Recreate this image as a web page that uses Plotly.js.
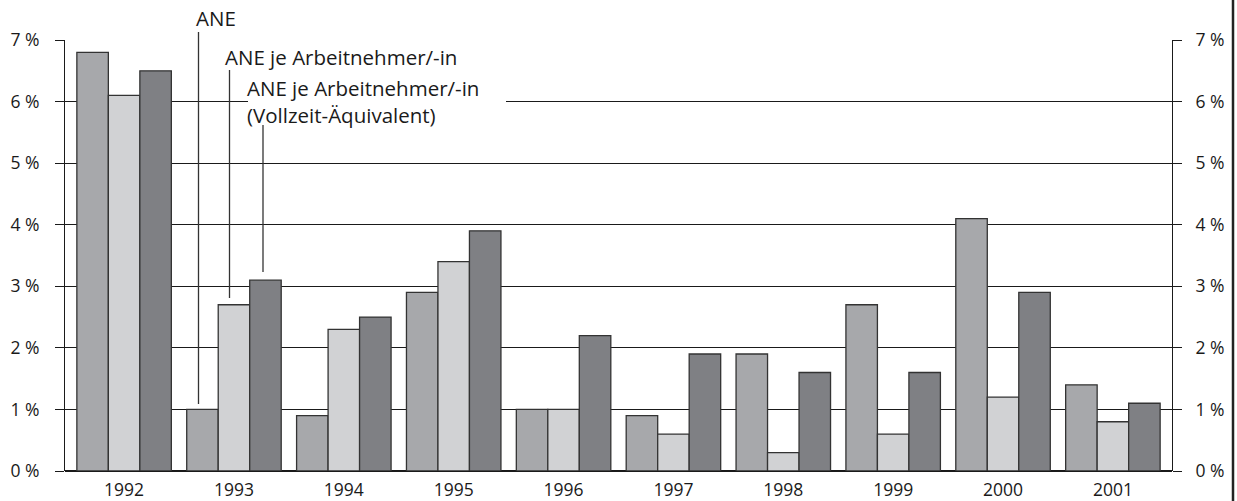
<!DOCTYPE html>
<html><head><meta charset="utf-8">
<script src="https://cdn.plot.ly/plotly-3.0.1.min.js"></script>
<style>html,body{margin:0;padding:0;background:#fff;}#chart{width:1237px;height:501px;}</style>
</head><body><div id="chart"></div>
<script>
const years = ['1992','1993','1994','1995','1996','1997','1998','1999','2000','2001'];
const seriesNames = ['ANE', 'ANE je Arbeitnehmer/-in', 'ANE je Arbeitnehmer/-in (Vollzeit-Äquivalent)'];
const ane        = [6.8, 1.0, 0.9, 2.9, 1.0, 0.9, 1.9, 2.7, 4.1, 1.4];
const aneJe      = [6.1, 2.7, 2.3, 3.4, 1.0, 0.6, 0.3, 0.6, 1.2, 0.8];
const aneVollzeit= [6.5, 3.1, 2.5, 3.9, 2.2, 1.9, 1.6, 1.6, 2.9, 1.1];
const colors = ['#a7a8ab', '#d1d2d4', '#7f8084'];
const yTicks = [0,1,2,3,4,5,6,7];
const yTickText = ['0 %','1 %','2 %','3 %','4 %','5 %','6 %','7 %'];

const FAM = 'Open Sans, Noto Sans, sans-serif';
const font = {family: FAM, size: 17.5, color: '#1a1a1a'};
const afont = {family: FAM, size: 20.5, color: '#1a1a1a'};
const values = [ane, aneJe, aneVollzeit];
const traces = values.map((v, i) => ({
  type: 'bar', x: years, y: v, name: seriesNames[i],
  marker: {color: colors[i], line: {color: '#333', width: 1.3}},
  hoverinfo: 'skip'
}));
traces.push({type: 'scatter', x: years, y: years.map(() => null), yaxis: 'y2', mode: 'markers', showlegend: false, hoverinfo: 'skip'});

const H = 431; // plot height in px
const py = p => (471 - p) / H; // pixel -> paper
const px = p => (p - 65) / 1107;
const layout = {
  width: 1237, height: 501,
  margin: {l: 65, r: 65, t: 40, b: 30},
  paper_bgcolor: '#fff', plot_bgcolor: '#fff',
  showlegend: false,
  barmode: 'group', bargap: 0.14, bargroupgap: 0,
  font: font,
  xaxis: {type: 'category', showgrid: false, ticks: '', tickfont: font, showline: false, zeroline: false, ticklabelstandoff: 6, fixedrange: true},
  yaxis: {range: [0, 7], tickvals: yTicks, ticktext: yTickText, showgrid: true, gridcolor: '#1a1a1a', gridwidth: 1,
    ticks: 'outside', ticklen: 9, tickcolor: '#1a1a1a', tickwidth: 1, showline: true, linecolor: '#1a1a1a', linewidth: 1,
    mirror: true, zeroline: true, zerolinecolor: '#1a1a1a', zerolinewidth: 2, tickfont: font, ticklabelstandoff: 12, fixedrange: true},
  yaxis2: {range: [0, 7], overlaying: 'y', side: 'right', tickvals: yTicks, ticktext: yTickText, showgrid: false, zeroline: false,
    ticks: 'outside', ticklen: 9, tickcolor: '#1a1a1a', tickwidth: 1, showline: false, tickfont: font, ticklabelstandoff: 10, fixedrange: true},
  shapes: [
    {type: 'rect', xref: 'paper', yref: 'paper', layer: 'above', x0: px(248), x1: px(506), y0: py(107), y1: py(96), fillcolor: '#fff', line: {width: 0}},
    {type: 'line', xref: 'paper', yref: 'paper', x0: px(198.5), x1: px(198.5), y0: py(32), y1: py(404), line: {color: '#333', width: 1.3}},
    {type: 'line', xref: 'paper', yref: 'paper', x0: px(229.5), x1: px(229.5), y0: py(70), y1: py(298), line: {color: '#333', width: 1.3}},
    {type: 'line', xref: 'paper', yref: 'paper', x0: px(263), x1: px(263), y0: py(125), y1: py(272), line: {color: '#333', width: 1.3}},
    {type: 'line', xref: 'paper', yref: 'paper', x0: px(1233), x1: px(1233), y0: py(505), y1: py(-5), line: {color: '#222', width: 2.5}}
  ],
  annotations: [
    {xref: 'paper', yref: 'paper', x: px(194), y: py(18), xanchor: 'left', yanchor: 'middle', text: 'ANE', showarrow: false, font: afont},
    {xref: 'paper', yref: 'paper', x: px(223), y: py(57), xanchor: 'left', yanchor: 'middle', text: 'ANE je Arbeitnehmer/-in', showarrow: false, font: afont},
    {xref: 'paper', yref: 'paper', x: px(246), y: py(101), xanchor: 'left', yanchor: 'middle', align: 'left', borderpad: 0,
      text: 'ANE je Arbeitnehmer/-in<br>(Vollzeit-Äquivalent)', showarrow: false, font: afont}
  ]
};
Plotly.newPlot('chart', traces, layout, {displayModeBar: false, staticPlot: true});
</script>
</body></html>
